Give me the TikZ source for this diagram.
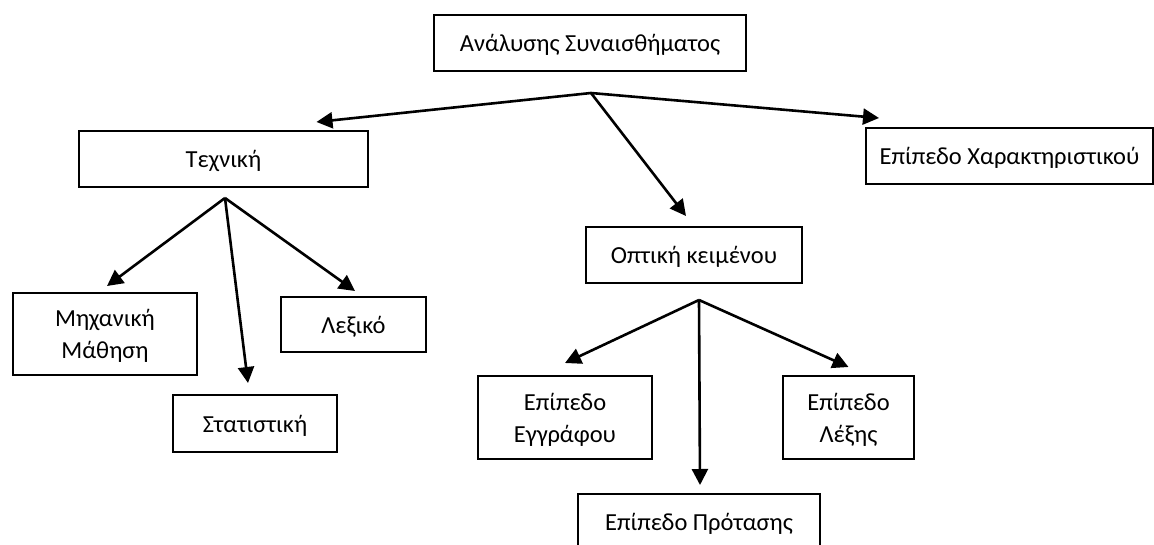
\documentclass[tikz,border=0pt]{standalone}
\usepackage{fontspec}
\setmainfont{Carlito}
\usetikzlibrary{arrows.meta, positioning}

\begin{document}
\begin{tikzpicture}[x=1pt, y=-1pt, ->, >={Triangle[length=16pt,width=16pt]},
	box/.style={rectangle, draw, line width=2pt, align=center, inner sep=0pt,
		font=\fontsize{24.5}{32}\selectfont, text depth=0pt},
	link/.style={line width=2.6pt}]
		\useasboundingbox (0,0) rectangle (1154,544);

		\node[box, minimum width=312pt, minimum height=56pt] (ROOT) at (590,43)    {Ανάλυσης Συναισθήματος};
		\node[box, minimum width=289pt, minimum height=56pt] (TECH) at (223.5,159) {Τεχνική};
		\node[box, minimum width=287pt, minimum height=56pt] (FEAT) at (1009.5,156) {Επίπεδο Χαρακτηριστικού};
		\node[box, minimum width=216pt, minimum height=56pt] (VIEW) at (694,255)   {Οπτική κειμένου};

		\node[box, minimum width=184pt, minimum height=82pt] (ML)   at (105,334)   {Μηχανική\\Μάθηση};
		\node[box, minimum width=164pt, minimum height=57pt] (STAT) at (255,423.5) {Στατιστική};
		\node[box, minimum width=145pt, minimum height=55pt] (LEX)  at (353.5,324.5) {Λεξικό};

		\node[box, minimum width=174pt, minimum height=83pt] (DOC)  at (565,417.5) {Επίπεδο\\Εγγράφου};
		\node[box, minimum width=131pt, minimum height=83pt] (WORD) at (848.5,417.5) {Επίπεδο\\Λέξης};
		\node[box, minimum width=242pt, minimum height=56pt] (SENT) at (699,522)   {Επίπεδο Πρότασης};

		% branching points under the parent boxes
		\coordinate (ROOT_J) at (591,93);
		\coordinate (TECH_J) at (225,198);
		\coordinate (VIEW_J) at (699,300);

		\path	(ROOT_J)	edge[link]	([xshift=93pt, yshift=8pt]TECH.north)
				(ROOT_J)	edge[link]	([xshift=14pt, yshift=9pt]FEAT.north west)
				(ROOT_J)	edge[link]	([xshift=-8pt, yshift=10pt]VIEW.north)

				(TECH_J)	edge[link]	([xshift=2pt, yshift=6pt]ML.north)
				(TECH_J)	edge[link]	([xshift=-7pt, yshift=11pt]STAT.north)
				(TECH_J)	edge[link]	([xshift=1.5pt, yshift=5pt]LEX.north)

				(VIEW_J)	edge[link]	([yshift=12pt]DOC.north)
				(VIEW_J)	edge[link]	([xshift=1pt, yshift=8pt]SENT.north)
				(VIEW_J)	edge[link]	([yshift=8pt]WORD.north)
				;
\end{tikzpicture}
\end{document}
